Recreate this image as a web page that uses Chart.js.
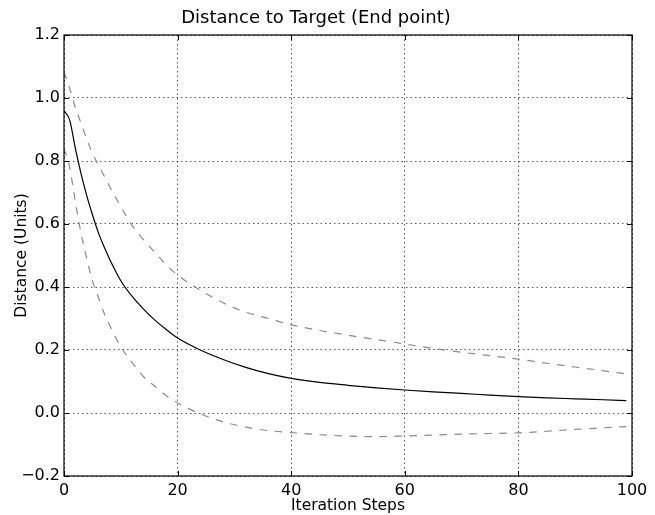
<!DOCTYPE html>
<html>
<head>
<meta charset="utf-8">
<script src="https://cdn.jsdelivr.net/npm/chart.js@4/dist/chart.umd.min.js"></script>
<style>
  html, body { margin: 0; padding: 0; background: #fff; }
  #wrap { width: 655px; height: 515px; }
</style>
</head>
<body>
<div id="wrap"><canvas id="distanceCanvas" width="655" height="515"></canvas></div>
<script>
const steps = [0, 1, 2, 3, 4, 5, 6, 7, 8, 10, 12, 14, 16, 18, 20, 24, 28, 32, 36, 40, 45, 50, 55, 60, 65, 70, 75, 80, 85, 90, 95, 99];
const meanDistance = [0.96, 0.93, 0.84, 0.76, 0.69, 0.63, 0.575, 0.53, 0.49, 0.42, 0.37, 0.33, 0.295, 0.265, 0.238, 0.20, 0.17, 0.145, 0.125, 0.11, 0.097, 0.088, 0.08, 0.073, 0.067, 0.062, 0.057, 0.052, 0.048, 0.045, 0.042, 0.039];
const upperDistance = [1.083, 1.03, 0.97, 0.92, 0.87, 0.825, 0.79, 0.755, 0.72, 0.655, 0.595, 0.55, 0.51, 0.47, 0.438, 0.39, 0.35, 0.32, 0.30, 0.28, 0.262, 0.247, 0.233, 0.219, 0.205, 0.193, 0.182, 0.171, 0.158, 0.146, 0.134, 0.124];
const lowerDistance = [0.84, 0.78, 0.67, 0.57, 0.49, 0.42, 0.37, 0.32, 0.28, 0.21, 0.16, 0.115, 0.085, 0.055, 0.032, -0.003, -0.028, -0.045, -0.056, -0.062, -0.069, -0.073, -0.075, -0.073, -0.07, -0.067, -0.065, -0.063, -0.058, -0.052, -0.047, -0.043];
const xTicks = [0, 20, 40, 60, 80, 100];
const yTicks = [-0.2, 0.0, 0.2, 0.4, 0.6, 0.8, 1.0, 1.2];

const font = "'DejaVu Sans', sans-serif";

function toPoints(values) {
    return steps.map((s, i) => ({ x: s, y: values[i] }));
}

// matplotlib style: full box and inward ticks on all four sides
const boxAndTicks = {
    id: 'boxAndTicks',
    afterDraw(chart) {
        const ctx = chart.ctx;
        const area = chart.chartArea;
        const xs = chart.scales.x;
        const ys = chart.scales.y;
        const len = 5;
        ctx.save();
        ctx.strokeStyle = '#000';
        ctx.lineWidth = 1;
        ctx.beginPath();
        xTicks.forEach((v) => {
            const px = Math.round(xs.getPixelForValue(v)) + 0.5;
            ctx.moveTo(px, area.bottom);
            ctx.lineTo(px, area.bottom - len);
            ctx.moveTo(px, area.top);
            ctx.lineTo(px, area.top + len);
        });
        yTicks.forEach((v) => {
            const py = Math.round(ys.getPixelForValue(v)) + 0.5;
            ctx.moveTo(area.left, py);
            ctx.lineTo(area.left + len, py);
            ctx.moveTo(area.right, py);
            ctx.lineTo(area.right - len, py);
        });
        ctx.stroke();
        ctx.lineWidth = 1.2;
        ctx.strokeRect(area.left, area.top, area.right - area.left, area.bottom - area.top);
        ctx.restore();
    }
};

const distanceChart = new Chart(document.getElementById('distanceCanvas'), {
    type: 'line',
    data: {
        datasets: [{
            label: 'mean',
            data: toPoints(meanDistance),
            borderColor: '#000',
            borderWidth: 1.2,
            pointRadius: 0,
            cubicInterpolationMode: 'monotone'
        }, {
            label: 'upper',
            data: toPoints(upperDistance),
            borderColor: '#8a8a8a',
            borderWidth: 1.2,
            borderDash: [7.5, 7.5],
            pointRadius: 0,
            cubicInterpolationMode: 'monotone'
        }, {
            label: 'lower',
            data: toPoints(lowerDistance),
            borderColor: '#8a8a8a',
            borderWidth: 1.2,
            borderDash: [7.5, 7.5],
            pointRadius: 0,
            cubicInterpolationMode: 'monotone'
        }]
    },
    options: {
        responsive: false,
        animation: false,
        layout: { padding: { left: 0, right: 23, top: 0, bottom: 0 } },
        plugins: {
            legend: { display: false },
            tooltip: { enabled: false },
            title: {
                display: true,
                text: 'Distance to Target (End point)',
                color: '#000',
                font: { family: font, size: 18, weight: 'normal' },
                padding: { top: 8, bottom: 5.4 }
            }
        },
        scales: {
            x: {
                type: 'linear',
                min: 0,
                max: 100,
                afterFit: (s) => { s.height = 39; },
                afterBuildTicks: (s) => { s.ticks = xTicks.map((v) => ({ value: v })); },
                ticks: {
                    color: '#000',
                    padding: 5,
                    maxRotation: 0,
                    font: { family: font, size: 16 },
                    callback: (v) => String(v)
                },
                grid: {
                    color: 'rgba(0,0,0,0.65)',
                    lineWidth: 1,
                    drawTicks: false,
                    tickLength: 0
                },
                border: { display: false, dash: [1.5, 3] },
                title: {
                    display: true,
                    text: 'Iteration Steps',
                    color: '#000',
                    font: { family: font, size: 15.5 },
                    padding: { top: 0, bottom: 0 }
                }
            },
            y: {
                type: 'linear',
                min: -0.2,
                max: 1.2,
                afterFit: (s) => { s.width = 64; },
                afterBuildTicks: (s) => { s.ticks = yTicks.map((v) => ({ value: v })); },
                ticks: {
                    color: '#000',
                    padding: 4,
                    font: { family: font, size: 16 },
                    callback: (v) => (v < 0 ? '\u2212' : '') + Math.abs(v).toFixed(1)
                },
                grid: {
                    color: 'rgba(0,0,0,0.65)',
                    lineWidth: 1,
                    drawTicks: false,
                    tickLength: 0
                },
                border: { display: false, dash: [1.5, 3] },
                title: {
                    display: true,
                    text: 'Distance (Units)',
                    color: '#000',
                    font: { family: font, size: 15.5 },
                    padding: { top: 13, bottom: 0 }
                }
            }
        }
    },
    plugins: [boxAndTicks]
});
</script>
</body>
</html>
